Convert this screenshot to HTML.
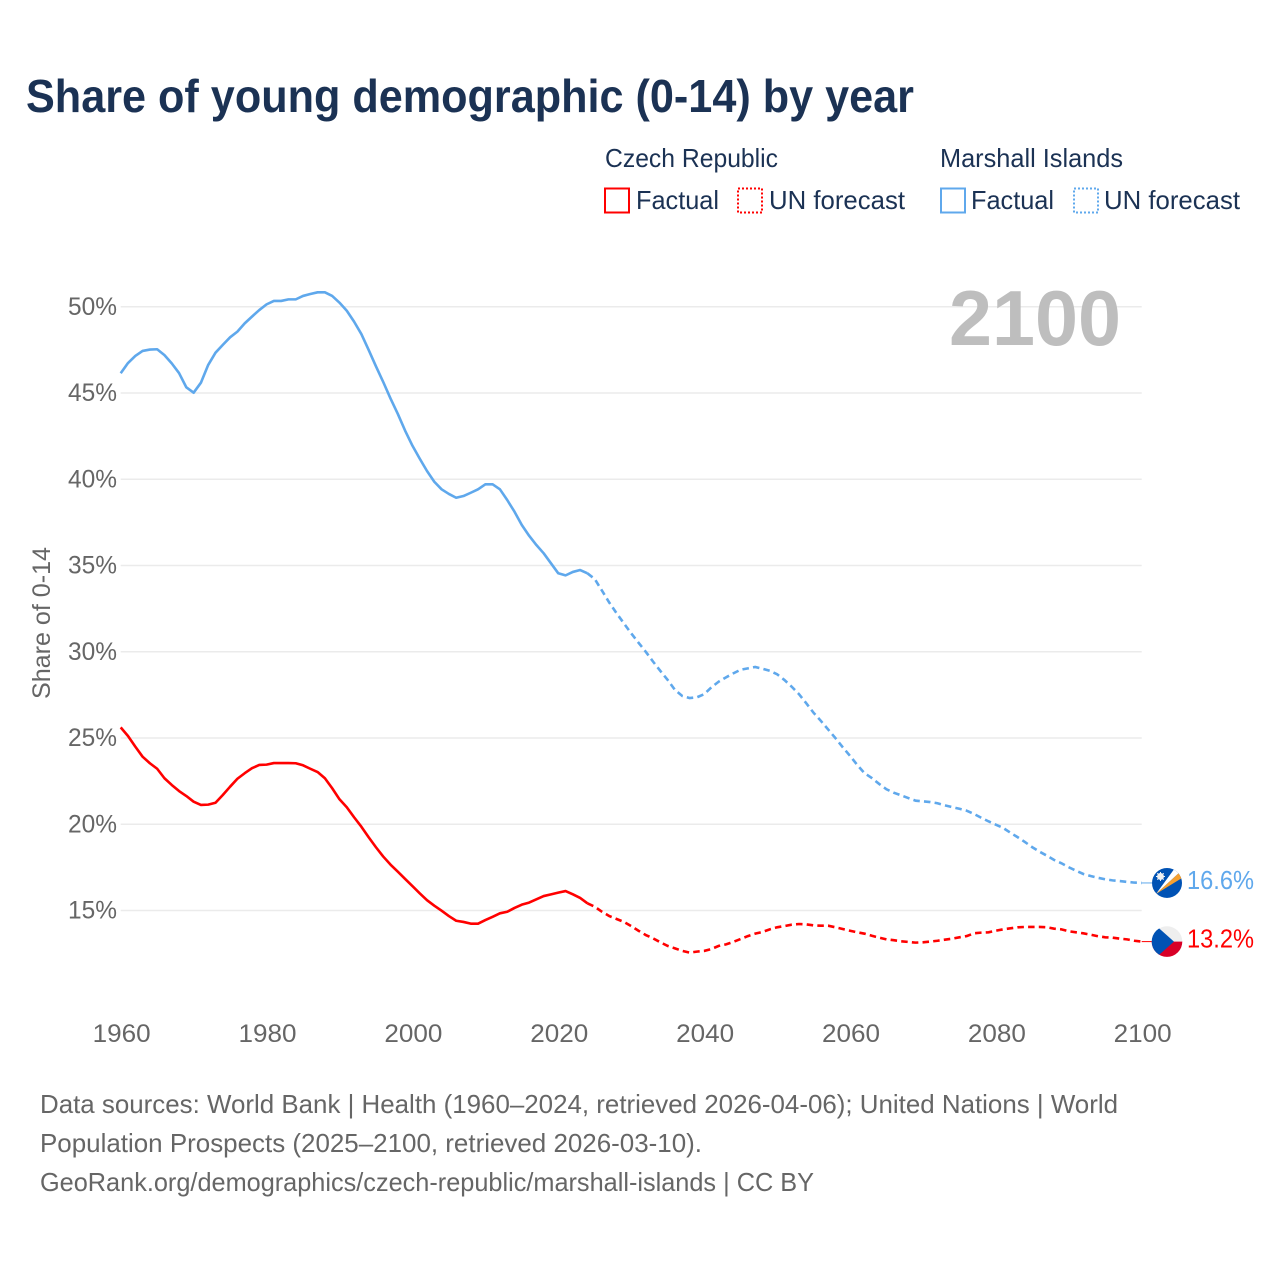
<!DOCTYPE html>
<html lang="en">
<head>
<meta charset="utf-8">
<title>Share of young demographic (0-14) by year</title>
<style>
html,body{margin:0;padding:0;background:#fff;width:1280px;height:1280px;overflow:hidden}
svg{display:block}
text{font-family:"Liberation Sans",sans-serif}
.leg{font-size:26px;fill:#1b3254}
.foot{font-size:26px;fill:#666}
</style>
</head>
<body>
<svg id="chart" xmlns="http://www.w3.org/2000/svg" width="1280" height="1280" viewBox="0 0 1280 1280">
  <rect x="0" y="0" width="1280" height="1280" fill="#fff"/>
  <text x="26" y="112" font-size="46" font-weight="700" fill="#1b3254" textLength="888" lengthAdjust="spacingAndGlyphs">Share of young demographic (0-14) by year</text>

  <g>
    <text class="leg" x="605" y="167" textLength="173" lengthAdjust="spacingAndGlyphs">Czech Republic</text>
    <rect x="605" y="188.5" width="24" height="24" fill="none" stroke="#ff0000" stroke-width="2"/>
    <text class="leg" x="636" y="209" textLength="83" lengthAdjust="spacingAndGlyphs">Factual</text>
    <rect x="738" y="188.5" width="24" height="24" fill="none" stroke="#ff0000" stroke-width="2" stroke-dasharray="2 2"/>
    <text class="leg" x="769" y="209" textLength="136" lengthAdjust="spacingAndGlyphs">UN forecast</text>

    <text class="leg" x="940" y="167" textLength="183" lengthAdjust="spacingAndGlyphs">Marshall Islands</text>
    <rect x="941" y="188.5" width="24" height="24" fill="none" stroke="#5fa8ec" stroke-width="2"/>
    <text class="leg" x="971" y="209" textLength="83" lengthAdjust="spacingAndGlyphs">Factual</text>
    <rect x="1074" y="188.5" width="24" height="24" fill="none" stroke="#5fa8ec" stroke-width="2" stroke-dasharray="2 2"/>
    <text class="leg" x="1104" y="209" textLength="136" lengthAdjust="spacingAndGlyphs">UN forecast</text>
  </g>

  <g id="grid"></g>
  <g id="yticks"></g>
  <g id="xticks"></g>

  <text transform="translate(50,699) rotate(-90)" font-size="25" fill="#666" textLength="152" lengthAdjust="spacingAndGlyphs">Share of 0-14</text>

  <text x="949" y="345" font-size="78" font-weight="700" fill="#bebebe" textLength="172" lengthAdjust="spacingAndGlyphs">2100</text>

  <g id="series"></g>

  <g id="flag-marshall">
    <clipPath id="clip-m"><circle cx="0" cy="0" r="15"/></clipPath>
    <g clip-path="url(#clip-m)">
      <rect x="-15" y="-15" width="30" height="30" fill="#0052b4"/>
      <polygon points="-11,11 8,-15 13,-11" fill="#fff"/>
      <polygon points="-11,11 13,-11 15,-5" fill="#f5a030"/>
      <circle cx="-6.5" cy="-6.5" r="3.4" fill="#f2f2f2"/>
      <g stroke="#f2f2f2" stroke-width="1">
        <line x1="-6.5" y1="-11" x2="-6.5" y2="-2"/>
        <line x1="-11" y1="-6.5" x2="-2" y2="-6.5"/>
        <line x1="-9.7" y1="-9.7" x2="-3.3" y2="-3.3"/>
        <line x1="-9.7" y1="-3.3" x2="-3.3" y2="-9.7"/>
      </g>
    </g>
  </g>
  <g id="flag-czech">
    <clipPath id="clip-c"><circle cx="0" cy="0" r="15.3"/></clipPath>
    <g clip-path="url(#clip-c)">
      <rect x="-16" y="-16" width="32" height="16" fill="#eeeeee"/>
      <rect x="-16" y="0" width="32" height="16" fill="#d80027"/>
      <polygon points="-16,-16 -11,-16 7,0 -11,16 -16,16" fill="#0052b4"/>
    </g>
  </g>

  <g>
    <text class="foot" x="40" y="1113" textLength="1078" lengthAdjust="spacingAndGlyphs">Data sources: World Bank | Health (1960–2024, retrieved 2026-04-06); United Nations | World</text>
    <text class="foot" x="40" y="1152" textLength="662" lengthAdjust="spacingAndGlyphs">Population Prospects (2025–2100, retrieved 2026-03-10).</text>
    <text class="foot" x="40" y="1191" textLength="774" lengthAdjust="spacingAndGlyphs">GeoRank.org/demographics/czech-republic/marshall-islands | CC BY</text>
  </g>
</svg>

<script>
const yTickValues = [50, 45, 40, 35, 30, 25, 20, 15];
const xTickYears = [1960, 1980, 2000, 2020, 2040, 2060, 2080, 2100];
const factualStartYear = 1960;
const forecastStartYear = 2024;

const czechFactual = [
  25.62,25.12,24.5,23.92,23.54,23.22,22.67,22.28,21.93,21.64,
  21.31,21.12,21.14,21.25,21.7,22.18,22.64,22.96,23.25,23.44,
  23.46,23.55,23.55,23.55,23.54,23.42,23.22,23.03,22.67,22.09,
  21.45,20.99,20.41,19.86,19.25,18.67,18.13,17.66,17.25,16.83,
  16.42,16.0,15.6,15.28,14.99,14.68,14.41,14.34,14.24,14.24,
  14.45,14.64,14.84,14.93,15.15,15.34,15.46,15.65,15.84,15.94,
  16.04,16.13,15.94,15.73,15.42
];
const czechForecast = [
  15.42,15.22,14.93,14.68,14.51,14.34,14.1,13.83,13.58,13.39,13.16,
  12.95,12.81,12.66,12.56,12.62,12.66,12.77,12.95,13.04,13.18,
  13.35,13.52,13.66,13.76,13.91,14.03,14.1,14.18,14.22,14.2,
  14.14,14.12,14.12,14.03,13.93,13.83,13.74,13.66,13.54,13.43,
  13.33,13.28,13.22,13.18,13.14,13.16,13.2,13.25,13.31,13.37,
  13.45,13.52,13.68,13.72,13.74,13.83,13.91,13.97,14.03,14.05,
  14.05,14.05,14.03,13.95,13.91,13.8,13.74,13.68,13.6,13.51,
  13.45,13.43,13.37,13.33,13.25,13.2
];
const marshallFactual = [
  46.15,46.74,47.15,47.44,47.52,47.54,47.2,46.72,46.16,45.33,
  45.02,45.6,46.63,47.34,47.79,48.23,48.56,49.04,49.43,49.81,
  50.14,50.34,50.34,50.43,50.43,50.63,50.74,50.84,50.84,50.63,
  50.24,49.77,49.14,48.42,47.5,46.55,45.64,44.68,43.79,42.82,
  41.95,41.2,40.48,39.86,39.42,39.15,38.93,39.03,39.22,39.42,
  39.71,39.71,39.42,38.8,38.12,37.35,36.73,36.19,35.71,35.13,
  34.55,34.43,34.63,34.74,34.55
];
const marshallForecast = [
  34.55,34.22,33.54,32.85,32.23,31.65,31.07,30.53,30.0,29.43,28.89,
  28.37,27.79,27.44,27.32,27.36,27.54,27.94,28.27,28.52,28.75,
  28.96,29.04,29.12,29.02,28.9,28.7,28.37,27.98,27.55,27.02,
  26.47,26.0,25.5,25.0,24.47,23.97,23.44,22.96,22.68,22.34,
  22.03,21.83,21.68,21.52,21.37,21.33,21.29,21.22,21.1,21.0,
  20.9,20.79,20.6,20.38,20.17,19.98,19.79,19.51,19.25,18.97,
  18.67,18.41,18.18,17.93,17.74,17.51,17.31,17.12,17.0,16.9,
  16.81,16.75,16.71,16.66,16.62,16.6
];

const SVGNS = 'http://www.w3.org/2000/svg';
const RED = '#ff0000';
const BLUE = '#5fa8ec';
function xScale(year) { return 120.7 + (year - 1960) * (1021 / 140); }
function yScale(v) { return 306.8 + (50 - v) * 17.25; }
function pathFor(values, startYear) {
  return values.map(function (v, i) {
    return (i ? 'L' : 'M') + xScale(startYear + i).toFixed(2) + ' ' + yScale(v).toFixed(2);
  }).join('');
}
function make(tag, attrs, parent) {
  const el = document.createElementNS(SVGNS, tag);
  Object.keys(attrs).forEach(function (k) { el.setAttribute(k, attrs[k]); });
  parent.appendChild(el);
  return el;
}

const gridG = document.getElementById('grid');
const yG = document.getElementById('yticks');
const xG = document.getElementById('xticks');
const seriesG = document.getElementById('series');

yTickValues.forEach(function (v) {
  const line = make('line', {x1: xScale(1960), x2: xScale(2100), y1: yScale(v), y2: yScale(v), stroke: '#ebebeb', 'stroke-width': 1.5}, gridG);
  
  
  const t = make('text', {x: 68, y: yScale(v) + 8, 'font-size': 25, fill: '#666', textLength: 49, lengthAdjust: 'spacingAndGlyphs'}, yG);
  t.textContent = v + '%';
  
  
});

xTickYears.forEach(function (yr) {
  const t = make('text', {x: xScale(yr) + 1 - 29, y: 1042, 'font-size': 25, fill: '#666', textLength: 58, lengthAdjust: 'spacingAndGlyphs'}, xG);
  t.textContent = String(yr);
  
  
});

const marshallLine = make('path', {d: pathFor(marshallFactual, factualStartYear), fill: 'none', stroke: BLUE, 'stroke-width': 2.6, 'stroke-linejoin': 'round'}, seriesG);



const marshallDash = make('path', {d: pathFor(marshallForecast, forecastStartYear), fill: 'none', stroke: BLUE, 'stroke-width': 2.6, 'stroke-dasharray': '6.5 4.2'}, seriesG);



const czechLine = make('path', {d: pathFor(czechFactual, factualStartYear), fill: 'none', stroke: RED, 'stroke-width': 2.6, 'stroke-linejoin': 'round'}, seriesG);



const czechDash = make('path', {d: pathFor(czechForecast, forecastStartYear), fill: 'none', stroke: RED, 'stroke-width': 2.6, 'stroke-dasharray': '6.5 4.2'}, seriesG);



const marshallLast = marshallForecast[marshallForecast.length - 1];
const czechLast = czechForecast[czechForecast.length - 1];

const marshallLead = make('line', {x1: xScale(2100), x2: 1152, y1: yScale(marshallLast), y2: yScale(marshallLast), stroke: BLUE, 'stroke-width': 1}, seriesG);



const czechLead = make('line', {x1: xScale(2100), x2: 1152, y1: yScale(czechLast), y2: yScale(czechLast), stroke: RED, 'stroke-width': 1}, seriesG);



document.getElementById('flag-marshall').setAttribute('transform', 'translate(1167,' + yScale(marshallLast).toFixed(2) + ')');
document.getElementById('flag-czech').setAttribute('transform', 'translate(1167,' + yScale(czechLast).toFixed(2) + ')');

const marshallEnd = make('text', {x: 1187, y: yScale(marshallLast) + 6, 'font-size': 26, fill: BLUE, textLength: 67, lengthAdjust: 'spacingAndGlyphs'}, seriesG);
marshallEnd.textContent = marshallLast.toFixed(1) + '%';



const czechEnd = make('text', {x: 1187, y: yScale(czechLast) + 6, 'font-size': 26, fill: RED, textLength: 67, lengthAdjust: 'spacingAndGlyphs'}, seriesG);
czechEnd.textContent = czechLast.toFixed(1) + '%';


</script>
</body>
</html>
